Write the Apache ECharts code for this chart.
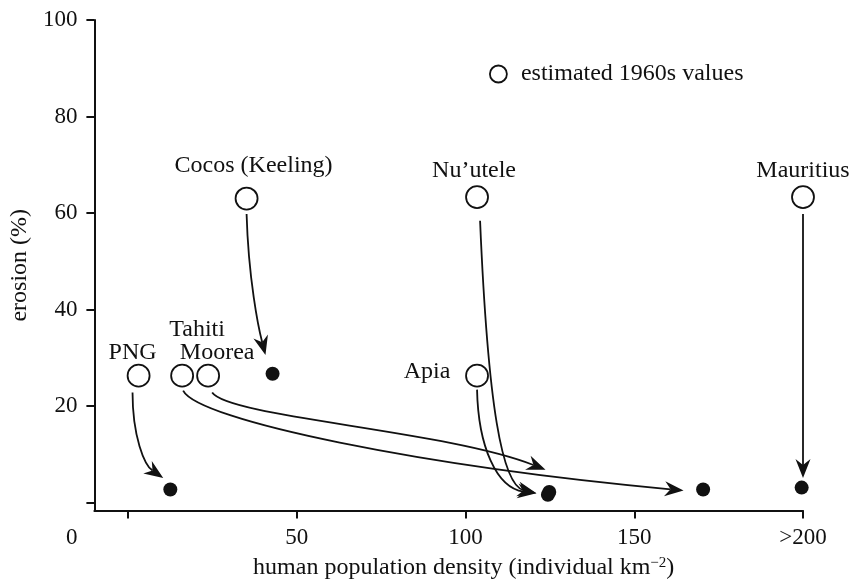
<!DOCTYPE html>
<html>
<head>
<meta charset="utf-8">
<script src="https://cdn.jsdelivr.net/npm/echarts@6/dist/echarts.min.js"></script>
<style>html,body{margin:0;padding:0;background:#fff}#c{width:852px;height:585px}</style>
</head>
<body>
<div id="c"></div>
<script>
// ---- data ----
const islands = ['PNG', 'Tahiti', 'Moorea', 'Cocos (Keeling)', 'Apia', 'Nu’utele', 'Mauritius'];
const density1960s = [3.1, 16.0, 23.7, 35.1, 103.4, 103.4, 200];
const erosion1960s = [26.3, 26.3, 26.3, 63.0, 26.3, 63.3, 63.3];

const nowIslands = ['PNG', 'Cocos (Keeling)', 'Apia', 'Nu’utele', 'Tahiti', 'Mauritius'];
const densityNow = [12.5, 42.8, 124.4, 124.8, 170.4, 199.6];
const erosionNow = [2.7, 26.7, 1.6, 2.2, 2.7, 3.1];

// arrows (one per island, same order as islands)
const arrowFromX = [1.3, 16.3, 24.9, 35.1, 103.4, 104.3, 200];
const arrowFromY = [22.8, 23.2, 22.8, 59.8, 23.4, 58.4, 59.8];
const arrowToX = [10.4, 164.6, 123.7, 40.7, 121.0, 121.0, 200];
const arrowToY = [5.1, 2.5, 6.8, 30.6, 1.9, 1.9, 5.1];

const xTicks = [0, 50, 100, 150, 200];
const xTickLabels = [50, 100, 150, 200];
const yTicks = [0, 20, 40, 60, 80, 100];
const legendName = 'estimated 1960s values';

// ---- styles ----
const FONT = 'Liberation Serif';
const FS = 24;
const FS_TICK = 23;
const INK = '#111';
const labelOffsets = [[-6, -23], [15, -46], [9, -23], [7, -33], [-50, -4], [-3, -26], [0, -26]];
// cubic bezier control points as fractions of (dx, dy) from start
const arrowShape = [
  [0.0, 0.52, 0.39, 0.85],
  [0.03, 0.30, 0.48, 0.76],
  [0.05, 0.32, 0.70, 0.49],
  [0.10, 0.46, 0.63, 0.81],
  [0.02, 0.55, 0.33, 0.95],
  [0.14, 0.68, 0.39, 0.97],
  [0.0, 0.33, 0.0, 0.67]
];

const chart = echarts.init(document.getElementById('c'), null, {renderer: 'canvas'});

const openData = islands.map((n, i) => ({
  name: n,
  value: [density1960s[i], erosion1960s[i]],
  label: {offset: labelOffsets[i]}
}));
const nowData = nowIslands.map((n, i) => ({name: n, value: [densityNow[i], erosionNow[i]]}));
const arrowData = islands.map((n, i) => [arrowFromX[i], arrowFromY[i], arrowToX[i], arrowToY[i]]);

function renderArrow(params, api) {
  const i = params.dataIndex;
  const p0 = api.coord([api.value(0), api.value(1)]);
  const p3 = api.coord([api.value(2), api.value(3)]);
  const s = arrowShape[i];
  const dx = p3[0] - p0[0], dy = p3[1] - p0[1];
  const c1 = [p0[0] + s[0] * dx, p0[1] + s[1] * dy];
  const c2 = [p0[0] + s[2] * dx, p0[1] + s[3] * dy];
  let ux = p3[0] - c2[0], uy = p3[1] - c2[1];
  const L = Math.hypot(ux, uy) || 1; ux /= L; uy /= L;
  const head = 19, half = 7.5, notch = 13;
  const nx = -uy, ny = ux;
  const bx = p3[0] - ux * head, by = p3[1] - uy * head;
  const ex = p3[0] - ux * notch, ey = p3[1] - uy * notch;
  return {
    type: 'group',
    children: [
      {type: 'bezierCurve',
       shape: {x1: p0[0], y1: p0[1], x2: ex, y2: ey, cpx1: c1[0], cpy1: c1[1], cpx2: c2[0], cpy2: c2[1]},
       style: {stroke: INK, lineWidth: 1.8, fill: null}},
      {type: 'polygon',
       shape: {points: [[p3[0], p3[1]], [bx + nx * half, by + ny * half], [ex, ey], [bx - nx * half, by - ny * half]]},
       style: {fill: INK}}
    ]
  };
}

chart.setOption({
  animation: false,
  backgroundColor: '#fff',
  textStyle: {fontFamily: FONT, color: INK},
  grid: {left: 91, right: 49, top: 20, bottom: 71, containLabel: false},
  legend: {
    data: [{name: legendName, icon: 'circle', itemStyle: {color: '#fff', borderColor: INK, borderWidth: 1.8}}],
    left: 484, top: 57,
    itemWidth: 35, itemHeight: 17, itemGap: 5,
    textStyle: {fontFamily: FONT, fontSize: FS, color: INK}
  },
  xAxis: {
    type: 'value', min: -10, max: 200,
    name: 'human population density (individual km{sup|−2})',
    nameLocation: 'middle', nameGap: 45,
    nameTextStyle: {fontFamily: FONT, fontSize: FS, color: INK, padding: [0, 0, 0, 30],
      rich: {sup: {fontFamily: FONT, fontSize: 15, verticalAlign: 'top', padding: [0, 0, 10, 0], color: INK}}},
    axisLine: {onZero: false, lineStyle: {color: INK, width: 2}},
    axisTick: {show: true, length: 8, lineStyle: {color: INK, width: 2}, customValues: xTicks},
    axisLabel: {fontFamily: FONT, fontSize: FS_TICK, color: INK, margin: 16, customValues: xTickLabels,
      formatter: v => v === 200 ? '>200' : String(v)},
    splitLine: {show: false}
  },
  yAxis: {
    type: 'value', min: -1.65, max: 100,
    name: 'erosion (%)', nameLocation: 'middle', nameGap: 57,
    nameTextStyle: {fontFamily: FONT, fontSize: FS, color: INK},
    axisLine: {onZero: false, lineStyle: {color: INK, width: 2}},
    axisTick: {show: true, length: 8, lineStyle: {color: INK, width: 2}, customValues: yTicks},
    axisLabel: {fontFamily: FONT, fontSize: FS_TICK, color: INK, margin: 17, customValues: yTicks,
      formatter: v => v === 0 ? '{z|0}' : String(v),
      rich: {z: {fontFamily: FONT, fontSize: FS_TICK, color: INK, padding: [70, 0, 0, 0]}}},
    splitLine: {show: false}
  },
  series: [
    {
      type: 'custom', name: 'arrows', coordinateSystem: 'cartesian2d',
      renderItem: renderArrow, data: arrowData, clip: false,
      encode: {x: [0, 2], y: [1, 3]}, z: 3, silent: true
    },
    {
      type: 'scatter', name: 'current', clip: false,
      symbol: 'circle', symbolSize: 14,
      itemStyle: {color: INK, opacity: 1},
      data: nowData, z: 4
    },
    {
      type: 'scatter', name: legendName, clip: false,
      symbol: 'circle', symbolSize: 22,
      itemStyle: {color: '#fff', borderColor: INK, borderWidth: 1.8, opacity: 1},
      label: {show: true, position: 'inside', formatter: p => p.name,
        fontFamily: FONT, fontSize: FS, color: INK},
      data: openData, z: 5
    }
  ]
});
</script>
</body>
</html>
